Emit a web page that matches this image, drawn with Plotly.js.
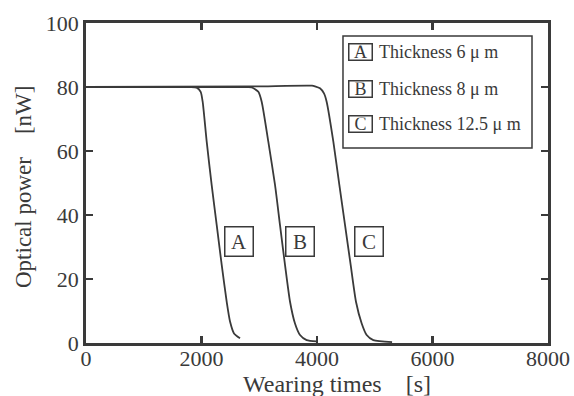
<!DOCTYPE html>
<html><head><meta charset="utf-8">
<script src="https://cdn.plot.ly/plotly-3.0.1.min.js"></script>
<style>html,body{margin:0;padding:0;background:#fff}#plot{width:574px;height:396px}</style>
</head><body><div id="plot"></div>
<script>
// Series A: thickness 6 um
const timeA = [0, 1800, 1916, 1986, 2020, 2090, 2176, 2263, 2350, 2436, 2494, 2563, 2667];
const powerA = [80, 80, 79.8, 78.5, 75.4, 62.9, 49.4, 36.9, 24.4, 12.9, 6.7, 3.0, 1.5];
// Series B: thickness 8 um
const timeB = [0, 2800, 2869, 2984, 3042, 3157, 3273, 3359, 3446, 3533, 3619, 3706, 3821, 3994];
const powerB = [80, 80, 79.9, 78.5, 75.4, 62.9, 49.4, 36.9, 24.4, 12.9, 6.1, 2.5, 0.9, 0.5];
// Series C: thickness 12.5 um
const timeC = [0, 2900, 3913, 3965, 4052, 4121, 4167, 4283, 4387, 4485, 4583, 4675, 4774, 4860, 4975, 5300];
const powerC = [80, 80.2, 80.4, 80.2, 79.6, 78.0, 75.4, 62.9, 49.4, 36.9, 24.4, 12.9, 6.1, 2.5, 0.9, 0.3];

const curveLabels = ["A", "B", "C"];
const legendTexts = ["Thickness 6 \u03bc m", "Thickness 8 \u03bc m", "Thickness 12.5 \u03bc m"];
const xTicks = [0, 2000, 4000, 6000, 8000];
const yTicks = [0, 20, 40, 60, 80, 100];
const xTitle = "Wearing times\u00a0\u00a0\u00a0\u00a0[s]";
const yTitle = "Optical power\u00a0\u00a0\u00a0\u00a0[nW]";

const ink = "#3a3a3a";
const serif = "Liberation Serif, Times New Roman, serif";
const lineStyle = {color: ink, width: 1.8, shape: "spline", smoothing: 0.6};

const traces = [
  {x: timeA, y: powerA, mode: "lines", line: lineStyle, hoverinfo: "skip"},
  {x: timeB, y: powerB, mode: "lines", line: lineStyle, hoverinfo: "skip"},
  {x: timeC, y: powerC, mode: "lines", line: lineStyle, hoverinfo: "skip"}
];

const W = 574, H = 396, ml = 86, mr = 26, mt = 23, mb = 53;
const pw = W - ml - mr, ph = H - mt - mb;

const curveLabelPos = [[2649, 31.6], [3714, 31.6], [4892, 31.6]];
const annotations = [];
curveLabels.forEach((t, i) => {
  annotations.push({x: curveLabelPos[i][0], y: curveLabelPos[i][1], xref: "x", yref: "y",
    xanchor: "center", yanchor: "middle", width: 24, height: 25,
    text: t, showarrow: false, font: {family: serif, size: 21, color: ink},
    bordercolor: ink, borderwidth: 1.5, borderpad: 1.5, bgcolor: "#fff"});
});
const legendRowsY = [90.8, 79.5, 68.4];
curveLabels.forEach((t, i) => {
  annotations.push({x: 4745, y: legendRowsY[i], xref: "x", yref: "y", xanchor: "center", yanchor: "middle",
    width: 20, height: 13,
    text: t, showarrow: false, font: {family: serif, size: 18, color: ink},
    bordercolor: ink, borderwidth: 1.5, borderpad: 1});
  annotations.push({x: 5040, y: legendRowsY[i], xref: "x", yref: "y", xanchor: "left", yanchor: "middle",
    text: legendTexts[i], showarrow: false, font: {family: serif, size: 18, color: ink}});
});
annotations.push({x: (337 - ml) / pw, y: (H - mb - 384) / ph, xref: "paper", yref: "paper",
  xanchor: "center", yanchor: "middle", text: xTitle, showarrow: false,
  font: {family: serif, size: 24, color: ink}});
annotations.push({x: (23 - ml) / pw, y: (H - mb - 187) / ph, xref: "paper", yref: "paper",
  xanchor: "center", yanchor: "middle", text: yTitle, showarrow: false, textangle: -90,
  font: {family: serif, size: 23, color: ink}});

const axisCommon = {
  showgrid: false, zeroline: false, showline: true, linecolor: ink, linewidth: 2.8,
  mirror: "ticks", ticks: "inside", ticklen: 7, tickwidth: 2.2, tickcolor: ink,
  tickfont: {family: serif, size: 22, color: ink}, fixedrange: true
};

const layout = {
  width: W, height: H,
  margin: {l: ml, r: mr, t: mt, b: mb},
  paper_bgcolor: "#fff", plot_bgcolor: "#fff",
  showlegend: false,
  xaxis: Object.assign({}, axisCommon, {range: [0, 8000], tickvals: xTicks, ticktext: xTicks.map(String), ticklabelstandoff: -6}),
  yaxis: Object.assign({}, axisCommon, {range: [0, 100], tickvals: yTicks, ticktext: yTicks.map(String), ticklabelstandoff: 0}),
  shapes: [{type: "rect", xref: "x", yref: "y", x0: 4450, x1: 7723, y0: 60.9, y1: 95.9,
    line: {color: ink, width: 1.5}, fillcolor: "rgba(0,0,0,0)"}],
  annotations: annotations
};

Plotly.newPlot("plot", traces, layout, {staticPlot: true, displayModeBar: false});
</script></body></html>
